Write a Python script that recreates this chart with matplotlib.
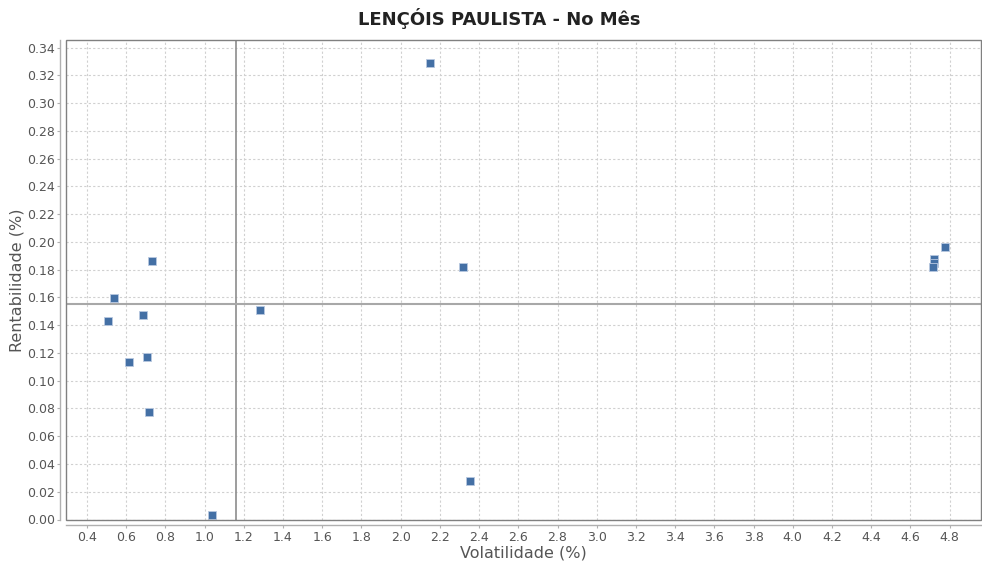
import matplotlib
matplotlib.use("Agg")
import matplotlib.pyplot as plt
from matplotlib.patches import Rectangle
import numpy as np

title = "LENÇÓIS PAULISTA - No Mês"
xlabel = "Volatilidade (%)"
ylabel = "Rentabilidade (%)"

volatilidade = [2.149, 2.318, 2.353, 1.284, 1.037, 0.733, 0.538, 0.507, 0.684,
                0.705, 0.614, 0.715, 4.776, 4.722, 4.721, 4.717]
rentabilidade = [0.3292, 0.1816, 0.0274, 0.1508, 0.0029, 0.1861, 0.1595, 0.1431, 0.1477,
                 0.1174, 0.1136, 0.0778, 0.1960, 0.1880, 0.1850, 0.1816]

ref_x = 1.161
ref_y = 0.1552

xticks = [round(0.4 + 0.2 * i, 1) for i in range(23)]
yticks = [round(0.02 * i, 2) for i in range(18)]

fig = plt.figure(figsize=(9.82, 5.62), dpi=100)
ax = fig.add_axes([66/982, 1 - 519.5/562, (981 - 66)/982, (519.5 - 40)/562])

ax.set_xlim(0.293, 4.96)
ax.set_ylim(0.0, 0.3455)

ax.grid(True, color="#d0d0d0", linestyle=(0, (2, 2)), linewidth=0.8)
ax.set_axisbelow(True)

ax.axvline(ref_x, color="#8c8c8c", linewidth=1.2, zorder=2)
ax.axhline(ref_y, color="#a8a8a8", linewidth=1.5, zorder=2)

ax.scatter(volatilidade, rentabilidade, marker="s", s=36, color="#4470a5",
           edgecolors="#b8c8e0", linewidths=0.6, zorder=3)

ax.set_xticks(xticks)
ax.set_xticklabels([f"{v:.1f}" for v in xticks])
ax.set_yticks(yticks)
ax.set_yticklabels([f"{v:.2f}" for v in yticks])

for s in ["top", "right"]:
    ax.spines[s].set_visible(False)
for s in ["left", "bottom"]:
    ax.spines[s].set_position(("outward", 4))
    ax.spines[s].set_color("#b0b0b0")
    ax.spines[s].set_linewidth(1.0)

ax.add_patch(Rectangle((0, 0), 1, 1, transform=ax.transAxes, fill=False,
                       edgecolor="#808080", linewidth=1.0, clip_on=False, zorder=4))

ax.tick_params(axis="both", colors="#b0b0b0", labelcolor="#555555", labelsize=9,
               length=2, width=0.8, pad=2)

ax.set_xlabel(xlabel, fontsize=11.5, color="#555555", labelpad=1)
ax.set_ylabel(ylabel, fontsize=11.5, color="#555555", labelpad=2)
fig.suptitle(title, fontsize=13, fontweight="bold", color="#222222", x=0.508, y=0.985)

fig.savefig("out.png", dpi=100)
